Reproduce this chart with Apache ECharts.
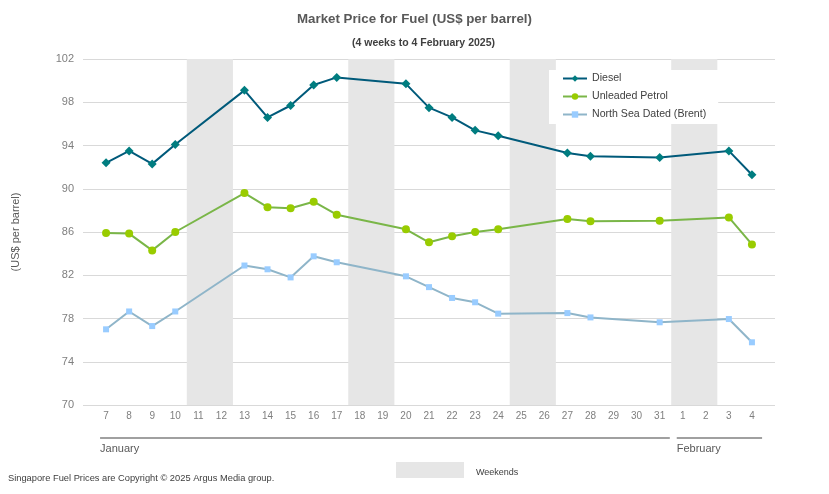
<!DOCTYPE html>
<html><head><meta charset="utf-8">
<script src="https://cdn.jsdelivr.net/npm/echarts@6/dist/echarts.min.js"></script>
<style>html,body{margin:0;padding:0;background:#fff}#c{width:829px;height:494px}</style>
</head><body><div id="c"></div>
<script>
const days = ['7','8','9','10','11','12','13','14','15','16','17','18','19','20','21','22','23','24','25','26','27','28','29','30','31','1','2','3','4'];
const months = [{name:'January', from:0, to:24}, {name:'February', from:25, to:28}];
const weekends = [[4,5],[11,12],[18,19],[25,26]];
const diesel = [92.4,93.5,92.3,94.1,null,null,99.1,96.6,97.7,99.6,100.3,null,null,99.7,97.5,96.6,95.4,94.9,null,null,93.3,93.0,null,null,92.9,null,null,93.5,91.3];
const petrol = [85.9,85.85,84.3,86.0,null,null,89.6,88.3,88.2,88.8,87.6,null,null,86.25,85.05,85.6,86.0,86.25,null,null,87.2,87.0,null,null,87.05,null,null,87.35,84.85];
const brent = [77.0,78.65,77.3,78.65,null,null,82.9,82.55,81.8,83.75,83.2,null,null,81.9,80.9,79.9,79.5,78.45,null,null,78.5,78.1,null,null,77.65,null,null,77.95,75.8];
const yTicks = {min:70, max:102, interval:4};

function pairs(arr){ const out=[]; arr.forEach((v,i)=>{ if(v!==null) out.push([i,v]); }); return out; }
const FONT = 'Liberation Sans, Arial, sans-serif';
const chart = echarts.init(document.getElementById('c'), null, {renderer:'canvas'});
const option = {
  animation:false,
  backgroundColor:'#fff',
  title:[
    {text:'Market Price for Fuel (US$ per barrel)', left:'center', top:8, textStyle:{fontFamily:FONT, fontSize:13.3, fontWeight:'bold', color:'#595959'}},
    {text:'(4 weeks to 4 February 2025)', left:347, top:33, textStyle:{fontFamily:FONT, fontSize:10.5, fontWeight:'bold', color:'#404040'}}
  ],
  grid:{left:83, right:54, top:59, bottom:89, containLabel:false},
  legend:{
    orient:'vertical', left:549, top:70, backgroundColor:'#fff', padding:[2,12,3,13],
    itemWidth:24, itemHeight:8, itemGap:5,
    textStyle:{fontFamily:FONT, fontSize:10.6, color:'#404040', lineHeight:13},
    data:['Diesel','Unleaded Petrol','North Sea Dated (Brent)']
  },
  xAxis:{
    type:'value', min:-1, max:days.length, interval:1,
    axisLine:{show:false}, axisTick:{show:false}, splitLine:{show:false},
    axisLabel:{margin:6, fontFamily:FONT, fontSize:10, color:'#7f7f7f',
      formatter:v=> (v>=0 && v<days.length) ? days[v] : ''}
  },
  yAxis:{
    type:'value', min:yTicks.min, max:yTicks.max, interval:yTicks.interval,
    name:'(US$ per barrel)', nameLocation:'middle', nameGap:62, nameRotate:90,
    nameTextStyle:{fontFamily:FONT, fontSize:11, color:'#595959'},
    axisLine:{show:false}, axisTick:{show:false},
    axisLabel:{margin:9, fontFamily:FONT, fontSize:11, color:'#7f7f7f'},
    splitLine:{lineStyle:{color:'#d9d9d9', width:1}}
  },
  series:[
    {type:'line', name:'_weekends', data:[], silent:true,
      markArea:{silent:true, itemStyle:{color:'#e6e6e6'},
        data: weekends.map(w=>[{xAxis:w[0]-0.5},{xAxis:w[1]+0.5}])}},
    {type:'line', name:'Diesel', data:pairs(diesel), symbol:'diamond', symbolSize:9,
      lineStyle:{color:'#005a7a', width:2}, itemStyle:{color:'#007d80'}, z:5},
    {type:'line', name:'Unleaded Petrol', data:pairs(petrol), symbol:'circle', symbolSize:8,
      lineStyle:{color:'#7ab648', width:2}, itemStyle:{color:'#99cc00'}, z:4},
    {type:'line', name:'North Sea Dated (Brent)', data:pairs(brent), symbol:'rect', symbolSize:6,
      lineStyle:{color:'#8fb5c9', width:2}, itemStyle:{color:'#99ccff'}, z:3}
  ]
};
chart.setOption(option);
const yBase = chart.convertToPixel({yAxisIndex:0}, yTicks.min);
const g = [];
months.forEach(m=>{
  const x1 = chart.convertToPixel({xAxisIndex:0}, m.from-0.26);
  const x2 = chart.convertToPixel({xAxisIndex:0}, m.to+0.44);
  g.push({type:'line', shape:{x1:x1,y1:yBase+33,x2:x2,y2:yBase+33}, style:{stroke:'#808080', lineWidth:1.3}});
  g.push({type:'text', x:x1, y:yBase+44, style:{text:m.name, font:'11px '+FONT, fill:'#595959', textVerticalAlign:'middle'}});
});
g.push({type:'rect', shape:{x:396,y:462,width:68,height:16}, style:{fill:'#e6e6e6'}});
g.push({type:'text', x:476, y:473, style:{text:'Weekends', font:'9px '+FONT, fill:'#404040', textVerticalAlign:'middle'}});
g.push({type:'text', x:8, y:478, style:{text:'Singapore Fuel Prices are Copyright \u00A9 2025 Argus Media group.', font:'9.3px '+FONT, fill:'#404040', textVerticalAlign:'middle'}});
chart.setOption({graphic:g});
</script></body></html>
